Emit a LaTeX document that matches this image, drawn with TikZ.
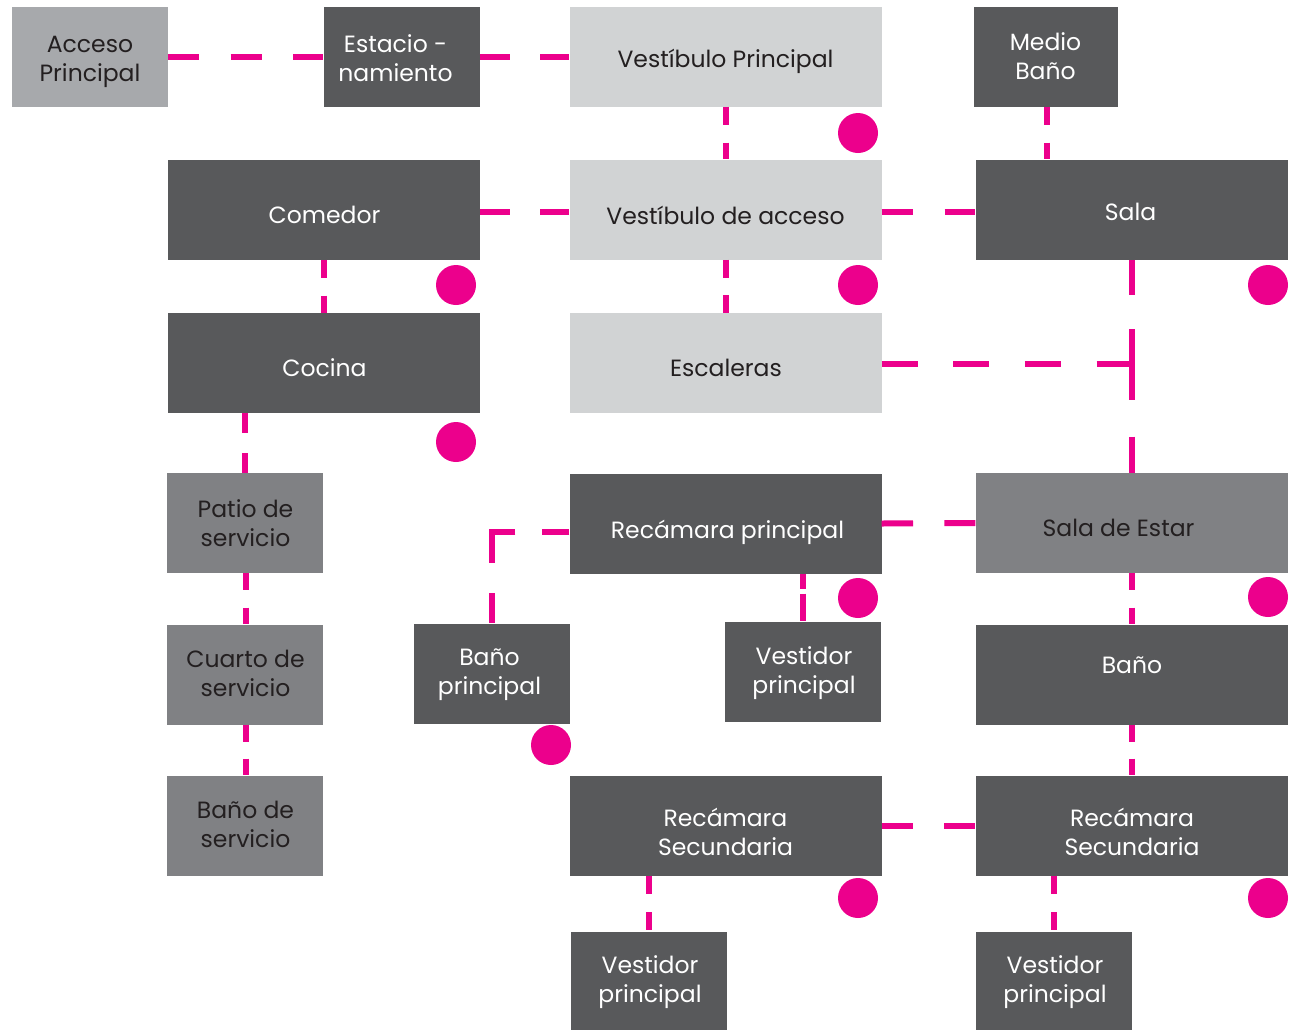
\documentclass[tikz,border=0pt]{standalone}
\usepackage{fontspec}
\setmainfont{Poppins}
\definecolor{cdark}{HTML}{58595B}
\definecolor{cmid}{HTML}{808184}
\definecolor{cpale}{HTML}{A7A9AC}
\definecolor{clight}{HTML}{D1D3D4}
\definecolor{cmag}{HTML}{EC008C}
\definecolor{ctext}{HTML}{231F20}
\tikzset{
  box/.style={rectangle, inner sep=0pt, minimum height=100pt},
  wide/.style={box, minimum width=312pt},
  narrow/.style={box, minimum width=156pt},
  dark/.style={fill=cdark},
  mid/.style={fill=cmid},
  pale/.style={fill=cpale},
  light/.style={fill=clight},
  txt/.style={inner sep=0pt, align=center, font=\fontsize{23.5}{29}\selectfont, text=ctext},
  wtxt/.style={txt, text=white},
  link/.style={draw=cmag, line width=6pt, dash pattern=on #1 off #1},
  dot/.style={circle, fill=cmag, minimum size=40pt, inner sep=0pt},
}
\begin{document}
\begin{tikzpicture}[x=1pt,y=-1pt]
\useasboundingbox (0,0) rectangle (1300,1031);
% boxes
\node[narrow,pale] (acc) at (89.5,56.5) {};
\node[narrow,dark] (est) at (401.5,56.5) {};
\node[wide,light] (vp) at (725.5,56.5) {};
\node[box,dark,minimum width=144pt] (mb) at (1045.5,56.5) {};
\node[wide,dark] (com) at (323.5,209.5) {};
\node[wide,light] (va) at (725.5,209.5) {};
\node[wide,dark] (sala) at (1131.5,209.5) {};
\node[wide,dark] (coc) at (323.5,363) {};
\node[wide,light] (esc) at (725.5,363) {};
\node[narrow,mid] (patio) at (244.5,523) {};
\node[narrow,mid] (cuarto) at (244.5,674.5) {};
\node[narrow,mid] (bserv) at (244.5,825.5) {};
\node[wide,dark] (rp) at (725.5,523.5) {};
\node[wide,mid] (se) at (1131.5,523) {};
\node[narrow,dark] (bp) at (491.5,673.5) {};
\node[narrow,dark] (vst1) at (802.5,671.5) {};
\node[wide,dark] (bano) at (1131.5,674.5) {};
\node[wide,dark] (rs1) at (725.5,825.5) {};
\node[wide,dark] (rs2) at (1131.5,825.5) {};
\node[narrow,dark,minimum height=98pt] (vst2) at (648.5,981) {};
\node[narrow,dark,minimum height=98pt] (vst3) at (1053.5,981) {};
% texts
\node[txt] (acc-t) at ([shift={(0.5,5.5)}]acc.center) {Acceso\\Principal};
\node[wtxt] (est-t) at ([shift={(-6,1.5)}]est.center) {Estacio -\\namiento};
\node[txt] (vp-t) at ([shift={(0,5)}]vp.center) {Vestíbulo Principal};
\node[wtxt] (mb-t) at ([shift={(0,0)}]mb.center) {Medio\\Baño};
\node[wtxt] (com-t) at ([shift={(1,5)}]com.center) {Comedor};
\node[txt] (va-t) at ([shift={(0,6)}]va.center) {Vestíbulo de acceso};
\node[wtxt] (sala-t) at ([shift={(-1,2)}]sala.center) {Sala};
\node[wtxt] (coc-t) at ([shift={(1,5)}]coc.center) {Cocina};
\node[txt] (esc-t) at ([shift={(0.5,5)}]esc.center) {Escaleras};
\node[txt] (patio-t) at ([shift={(1,0)}]patio.center) {Patio de\\servicio};
\node[txt] (cuarto-t) at ([shift={(1,-1)}]cuarto.center) {Cuarto de\\servicio};
\node[txt] (bserv-t) at ([shift={(1,-1)}]bserv.center) {Baño de\\servicio};
\node[wtxt] (rp-t) at ([shift={(2,9)}]rp.center) {Recámara principal};
\node[txt] (se-t) at ([shift={(-13,5)}]se.center) {Sala de Estar};
\node[wtxt] (bp-t) at ([shift={(-2,1)}]bp.center) {Baño\\principal};
\node[wtxt] (vst1-t) at ([shift={(1.5,2)}]vst1.center) {Vestidor\\principal};
\node[wtxt] (bano-t) at ([shift={(0.5,-9)}]bano.center) {Baño};
\node[wtxt] (rs1-t) at ([shift={(0,6)}]rs1.center) {Recámara\\Secundaria};
\node[wtxt] (rs2-t) at ([shift={(0.5,6)}]rs2.center) {Recámara\\Secundaria};
\node[wtxt] (vst2-t) at ([shift={(1.5,1)}]vst2.center) {Vestidor\\principal};
\node[wtxt] (vst3-t) at ([shift={(1.5,1)}]vst3.center) {Vestidor\\principal};
% dots
\node[dot] (d1) at (858,133) {};
\node[dot] (d2) at (456,285) {};
\node[dot] (d3) at (858,285) {};
\node[dot] (d4) at (1268,285) {};
\node[dot] (d5) at (456,442) {};
\node[dot] (d6) at (858,598) {};
\node[dot] (d7) at (1268,597) {};
\node[dot] (d8) at (551,745) {};
\node[dot] (d9) at (858,898) {};
\node[dot] (d10) at (1268,898) {};
% connectors
\draw[link=31.4pt] (acc.east) -- (est.west);
\draw[link=30.3pt] (est.east) -- (vp.west);
\draw[link=18pt] ([xshift=0.5pt]vp.south) -- ([xshift=0.5pt]va.north);
\draw[link=18pt] ([xshift=1.5pt]mb.south) -- ([xshift=1.5pt]mb.south |- sala.north);
\draw[link=30.3pt] ([yshift=-2.5pt]com.east) -- ([yshift=-2.5pt]va.west);
\draw[link=31.5pt] ([yshift=-2.5pt]va.east) -- ([yshift=-2.5pt]sala.west);
\draw[link=18pt] ([xshift=0.5pt]com.south) -- ([xshift=0.5pt]coc.north);
\draw[link=17.8pt] ([xshift=0.5pt]va.south) -- ([xshift=0.5pt]esc.north);
\coordinate (j) at ([xshift=0.5pt]sala.south |- esc.east);
\draw[link=35.8pt] ([yshift=-1pt]esc.east) -- ([yshift=-1pt]j);
\draw[link=34.8pt] ([xshift=0.5pt]sala.south) -- ([yshift=-1pt]j);
\draw[link=36.3pt] ([yshift=-1pt]j) -- ([xshift=0.5pt]se.north);
\draw[link=20pt] ([xshift=0.5pt]patio.north |- coc.south) -- ([xshift=0.5pt]patio.north);
\draw[link=17.2pt] ([xshift=1pt]patio.south) -- ([xshift=1pt]cuarto.north);
\draw[link=17pt] ([xshift=1pt]cuarto.south) -- ([xshift=1pt]bserv.north);
\draw[link=31.3pt] (rp.east) -- (se.west);
\coordinate (c1) at ([yshift=-8.5pt]rp.west);
\coordinate (c2) at ([xshift=-2.5pt]bp.north |- c1);
\draw[link=27pt] (c1) -- (c2);
\draw[link=30.5pt] ([xshift=0.5pt]bp.north |- c1) -- ([xshift=0.5pt]bp.north);
\draw[draw=cmag, line width=6pt, dash pattern=on 15pt off 5pt on 30pt off 60pt]
  ([xshift=0.5pt]vst1.north |- rp.south) -- ([xshift=0.5pt]vst1.north);
\draw[link=17.2pt] ([xshift=0.5pt]se.south) -- ([xshift=0.5pt]bano.north);
\draw[link=17pt] ([xshift=0.5pt]bano.south) -- ([xshift=0.5pt]rs2.north);
\draw[link=31.3pt] (rs1.east) -- (rs2.west);
\draw[link=18.2pt] ([xshift=0.5pt]vst2.north |- rs1.south) -- ([xshift=0.5pt]vst2.north);
\draw[link=18.2pt] ([xshift=0.5pt]vst3.north |- rs2.south) -- ([xshift=0.5pt]vst3.north);
\end{tikzpicture}
\end{document}
